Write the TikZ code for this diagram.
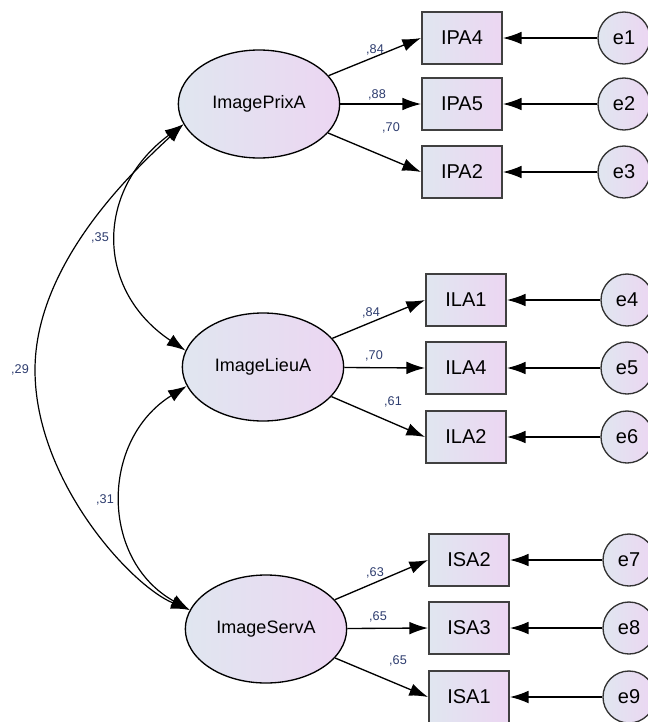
\documentclass[tikz,border=0pt]{standalone}
\usepackage{fontspec}
\setmainfont{Liberation Sans}
\usetikzlibrary{arrows.meta, shapes.geometric}

\definecolor{shadeL}{RGB}{224,230,240}
\definecolor{shadeR}{RGB}{236,214,242}
\definecolor{wtblue}{RGB}{45,60,110}

\begin{document}
\begin{tikzpicture}[x=0.75pt, y=-0.75pt,
  latent/.style={ellipse, draw, line width=1pt, left color=shadeL, right color=shadeR,
    minimum width=121pt, minimum height=81pt, inner sep=0pt, font=\fontsize{13.5}{15}\selectfont},
  obs/.style={rectangle, draw=black!75, line width=1.4pt, left color=shadeL, right color=shadeR,
    minimum width=60pt, minimum height=39pt, inner sep=0pt, font=\fontsize{15}{17}\selectfont},
  err/.style={circle, draw=black!80, line width=1pt, left color=shadeL, right color=shadeR,
    minimum size=39pt, inner sep=0pt, font=\fontsize{15}{17}\selectfont},
  load/.style={-{Latex[length=14pt,width=9.5pt]}, line width=1pt},
  cov/.style={{Latex[length=14pt,width=9.5pt]}-{Latex[length=14pt,width=9.5pt]}, line width=0.9pt},
  wt/.style={font=\fontsize{9.5}{11}\selectfont, text=wtblue}]
  \useasboundingbox (0,0) rectangle (648,722);

  % latent factors
  \node[latent] (prix) at (259,104) {ImagePrixA};
  \node[latent] (lieu) at (263,367) {ImageLieuA};
  \node[latent] (serv) at (266,629) {ImageServA};

  % indicators
  \node[obs] (ipa4) at (462,38) {IPA4};
  \node[obs] (ipa5) at (462,104) {IPA5};
  \node[obs] (ipa2) at (462,172) {IPA2};
  \node[obs] (ila1) at (466,300) {ILA1};
  \node[obs] (ila4) at (466,368) {ILA4};
  \node[obs] (ila2) at (466,437) {ILA2};
  \node[obs] (isa2) at (469,560) {ISA2};
  \node[obs] (isa3) at (469,628) {ISA3};
  \node[obs] (isa1) at (469,697) {ISA1};

  % errors
  \node[err] (e1) at (624,38) {e1};
  \node[err] (e2) at (624,104) {e2};
  \node[err] (e3) at (624,172) {e3};
  \node[err] (e4) at (627,300) {e4};
  \node[err] (e5) at (627,368) {e5};
  \node[err] (e6) at (627,437) {e6};
  \node[err] (e7) at (629,560) {e7};
  \node[err] (e8) at (629,628) {e8};
  \node[err] (e9) at (629,697) {e9};

  \draw[load] (prix) -- (ipa4.west);
  \draw[load] (prix) -- (ipa5.west);
  \draw[load] (prix) -- (ipa2.west);
  \draw[load] (lieu) -- (ila1.west);
  \draw[load] (lieu) -- (ila4.west);
  \draw[load] (lieu) -- (ila2.west);
  \draw[load] (serv) -- (isa2.west);
  \draw[load] (serv) -- (isa3.west);
  \draw[load] (serv) -- (isa1.west);

  \draw[load] (e1) -- (ipa4);
  \draw[load] (e2) -- (ipa5);
  \draw[load] (e3) -- (ipa2);
  \draw[load] (e4) -- (ila1);
  \draw[load] (e5) -- (ila4);
  \draw[load] (e6) -- (ila2);
  \draw[load] (e7) -- (isa2);
  \draw[load] (e8) -- (isa3);
  \draw[load] (e9) -- (isa1);

  % covariances
  \draw[cov] (prix.195) .. controls (95,190) and (95,290) .. (lieu.168);
  \draw[cov] (lieu.194) .. controls (100,440) and (100,560) .. (serv.166);
  \draw[cov] (prix.195) .. controls (140,165) and (35,260) .. (35,370)
    .. controls (35,480) and (130,585) .. (serv.166);

  \node[wt] (w1) at (375,50) {,84};
  \node[wt] (w2) at (377,95) {,88};
  \node[wt] (w3) at (391,128) {,70};
  \node[wt] (w4) at (371,313) {,84};
  \node[wt] (w5) at (374,356) {,70};
  \node[wt] (w6) at (393,402) {,61};
  \node[wt] (w7) at (375,573) {,63};
  \node[wt] (w8) at (378,617) {,65};
  \node[wt] (w9) at (398,661) {,65};
  \node[wt] (c1) at (100,238) {,35};
  \node[wt] (c2) at (105,500) {,31};
  \node[wt] (c3) at (20,370) {,29};
\end{tikzpicture}
\end{document}
